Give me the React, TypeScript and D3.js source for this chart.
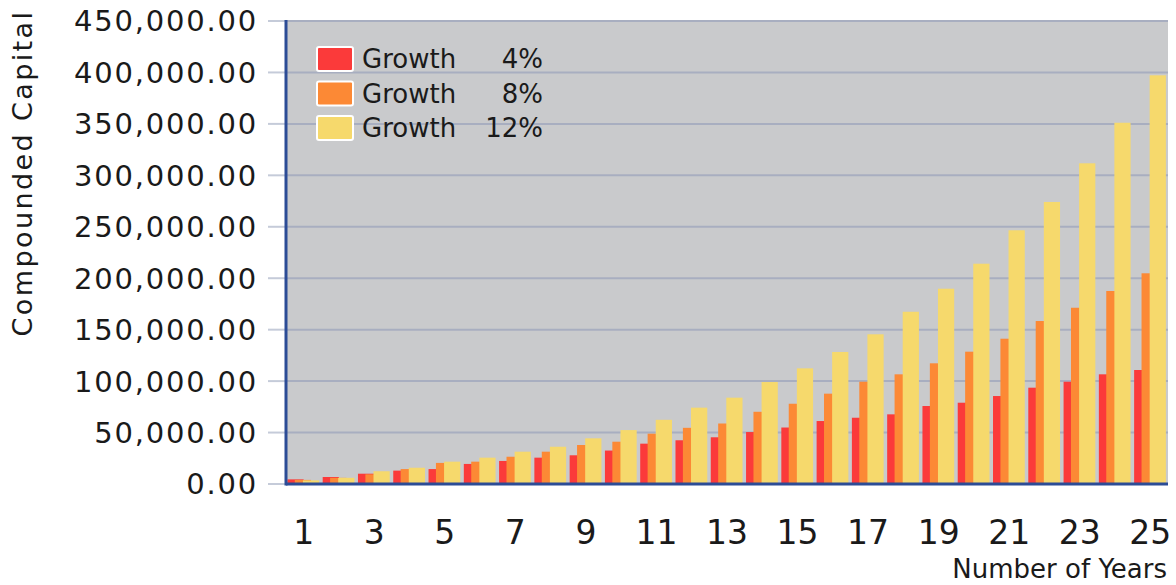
import React from "react";
import * as d3 from "d3";

const years = [1, 2, 3, 4, 5, 6, 7, 8, 9, 10, 11, 12, 13, 14, 15, 16, 17, 18, 19, 20, 21, 22, 23, 24, 25];
const growth4 = [4500, 6800, 10000, 13000, 14500, 19500, 22400, 25600, 27900, 32500, 39200, 42500, 45400, 50500, 54900, 61200, 64400, 67700, 75800, 79000, 85500, 93600, 99400, 106600, 110800];
const growth8 = [4000, 6000, 9400, 14500, 20500, 21700, 26500, 31400, 37900, 41100, 48900, 54600, 58800, 70200, 78000, 87800, 99400, 106600, 117300, 128600, 141200, 158400, 171300, 187600, 204800];
const growth12 = [3500, 6000, 12400, 15800, 21700, 25600, 31400, 36200, 44400, 52400, 62400, 74200, 83900, 99100, 112400, 128300, 145500, 167400, 189800, 214100, 246600, 274100, 311700, 351100, 397200];
const seriesLabels = ["4%", "8%", "12%"];
const seriesName = "Growth";
const yTicks = [0, 50000, 100000, 150000, 200000, 250000, 300000, 350000, 400000, 450000];
const xTickLabels = [1, 3, 5, 7, 9, 11, 13, 15, 17, 19, 21, 23, 25];
const yTitle = "Compounded Capital";
const xTitle = "Number of Years";

const colors = ["#fb3a3a", "#fc8935", "#f6d96c"];
const FONT = "'DejaVu Sans', sans-serif";

export default function App() {
  const W = 1176;
  const H = 585;
  const left = 286;
  const right = 1168;
  const top = 21;
  const bottom = 484;

  const x = d3.scaleBand<number>().domain(years).range([left, right]).paddingInner(0).paddingOuter(0);
  const y = d3.scaleLinear().domain([0, 450000]).range([bottom, top]);
  const bw = x.bandwidth();
  const offsets = [0.04, 0.25, 0.48];
  const barW = bw * 0.46;
  const series = [growth4, growth8, growth12];
  const fmt = d3.format(",.2f");

  return (
    <svg width={W} height={H} style={{ position: "absolute", left: 0, top: 0, background: "#fff" }}>
      <rect x={left} y={top - 1} width={right - left} height={bottom - top + 1} fill="#c9cacc" />
      {yTicks.map((t) => (
        <g key={t}>
          {t > 0 && <line x1={left} x2={right} y1={y(t)} y2={y(t)} stroke="#a8aec0" strokeWidth={2} />}
          <line x1={268} x2={left} y1={y(t)} y2={y(t)} stroke="#c5cbd9" strokeWidth={2} />
          <text x={258} y={y(t)} dy="0.36em" textAnchor="end" fontFamily={FONT} fontSize={29} letterSpacing={1.8} fill="#1a1a1a">
            {fmt(t)}
          </text>
        </g>
      ))}
      {series.map((vals, si) =>
        vals.map((v, i) => (
          <rect
            key={`${si}-${i}`}
            x={(x(years[i]) as number) + offsets[si] * bw}
            y={y(v)}
            width={barW}
            height={y(0) - y(v)}
            fill={colors[si]}
          />
        ))
      )}
      <line x1={left} x2={right} y1={bottom} y2={bottom} stroke="#2c4c96" strokeWidth={3} />
      <line x1={left} x2={left} y1={top - 1} y2={bottom + 1.5} stroke="#2c4c96" strokeWidth={3} />
      {xTickLabels.map((l) => (
        <text key={l} x={(x(l) as number) + bw / 2} y={532} dy="0.36em" textAnchor="middle" fontFamily={FONT} fontSize={33} fill="#1a1a1a">
          {l}
        </text>
      ))}
      <text x={1167} y={578} textAnchor="end" fontFamily={FONT} fontSize={26} fill="#1a1a1a">
        {xTitle}
      </text>
      <text transform={`translate(32,173) rotate(-90)`} textAnchor="middle" fontFamily={FONT} fontSize={27} letterSpacing={2.4} fill="#1a1a1a">
        {yTitle}
      </text>
      {seriesLabels.map((lab, i) => {
        const cy = 59 + i * 34.5;
        return (
          <g key={lab}>
            <rect x={317} y={cy - 12} width={36} height={24} rx={2} fill={colors[i]} stroke="#fff" strokeWidth={2} />
            <text x={362} y={cy} dy="0.36em" fontFamily={FONT} fontSize={26} fill="#1a1a1a">
              {seriesName}
            </text>
            <text x={543} y={cy} dy="0.36em" textAnchor="end" fontFamily={FONT} fontSize={26} fill="#1a1a1a">
              {lab}
            </text>
          </g>
        );
      })}
    </svg>
  );
}
